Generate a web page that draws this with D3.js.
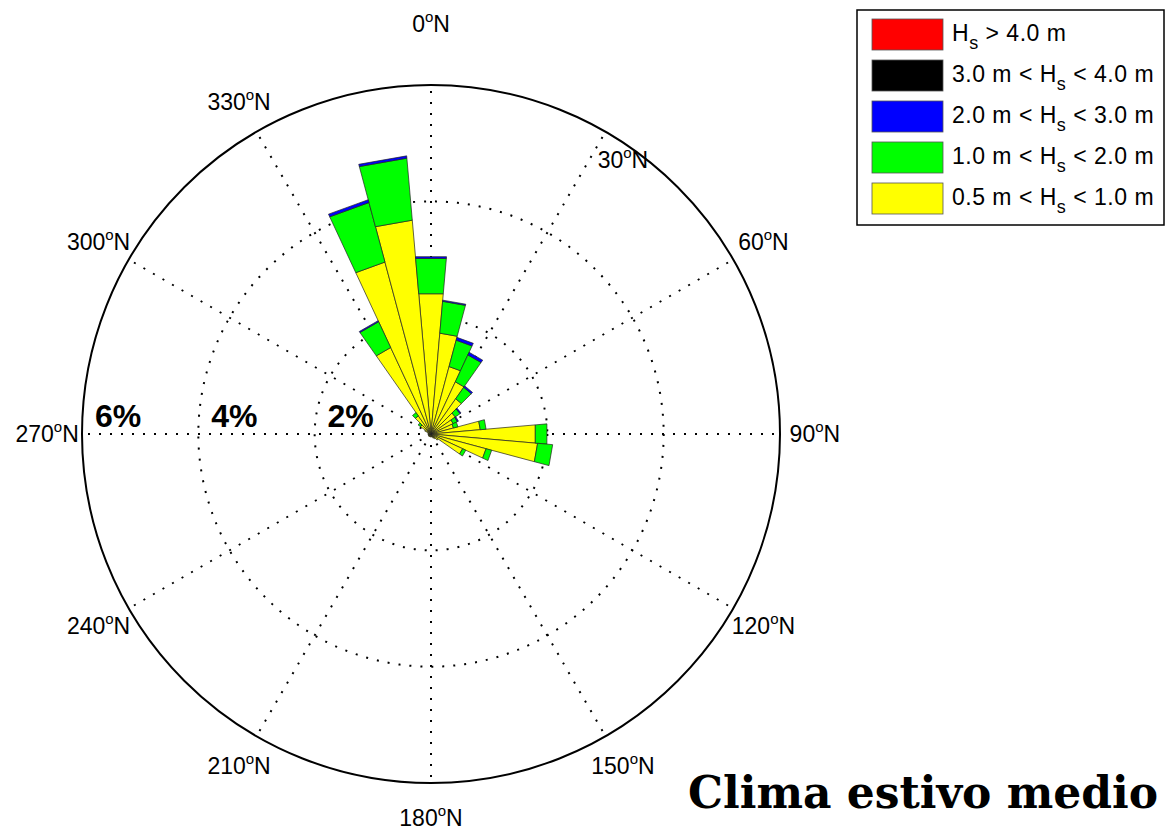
<!DOCTYPE html>
<html>
<head>
<meta charset="utf-8">
<script src="https://cdn.jsdelivr.net/npm/d3@7"></script>
<style>
  body { margin: 0; background: #fff; }
  svg { display: block; }
</style>
</head>
<body>
<div id="app"></div>
<script>
// direction of each sector, degrees from north (10 deg bins)
const directions = [0, 10, 20, 30, 40, 50, 60, 70, 80, 90, 100, 110, 120, 130, 140, 150, 160, 170,
    180, 190, 200, 210, 220, 230, 240, 250, 260, 270, 280, 290, 300, 310, 320, 330, 340, 350];

// frequency (%) for each Hs class, per direction
const hs05to1 = [2.42, 1.74, 1.20, 0.99, 0.74, 0.51, 0.42, 0.40, 0.85, 1.80, 1.84, 0.98, 0.60, 0.15, 0.10, 0.08, 0.05, 0.05,
    0.05, 0.05, 0.05, 0.05, 0.05, 0.05, 0.05, 0.05, 0.05, 0.05, 0.05, 0.06, 0.12, 0.22, 0.38, 1.64, 3.06, 3.69];
const hs1to2 = [0.61, 0.55, 0.47, 0.51, 0.24, 0.10, 0.08, 0.08, 0.10, 0.20, 0.26, 0.10, 0.06, 0, 0, 0, 0, 0,
    0, 0, 0, 0, 0, 0, 0, 0, 0, 0, 0, 0, 0, 0.05, 0.07, 0.49, 1.06, 1.07];
const hs2to3 = [0.03, 0.02, 0.05, 0.05, 0.03, 0.02, 0.02, 0, 0, 0, 0, 0, 0, 0, 0, 0, 0, 0,
    0, 0, 0, 0, 0, 0, 0, 0, 0, 0, 0, 0, 0, 0, 0, 0.02, 0.05, 0.04];
const hs3to4 = directions.map(() => 0);
const hsOver4 = directions.map(() => 0);

const ringValues = [2, 4, 6];
const spokeAngles = [0, 30, 60, 90, 120, 150, 180, 210, 240, 270, 300, 330];

const classes = [
    { key: 'over4', label: ['H', 's', ' > 4.0 m'], color: '#ff0000', values: hsOver4 },
    { key: 'h3to4', label: ['3.0 m < H', 's', ' < 4.0 m'], color: '#000000', values: hs3to4 },
    { key: 'h2to3', label: ['2.0 m < H', 's', ' < 3.0 m'], color: '#0000ff', values: hs2to3 },
    { key: 'h1to2', label: ['1.0 m < H', 's', ' < 2.0 m'], color: '#00ff00', values: hs1to2 },
    { key: 'h05to1', label: ['0.5 m < H', 's', ' < 1.0 m'], color: '#ffff00', values: hs05to1 },
];

const width = 1174;
const height = 834;
const cx = 431;
const cy = 434;
const R = 349;

// a couple of angle labels were nudged by hand in the original figure
const labelNudge = { 0: [0, -26], 30: [0, 58] };

const svg = d3.select('#app').append('svg')
    .attr('width', width)
    .attr('height', height)
    .style('font-family', '"Liberation Sans", Arial, Helvetica, sans-serif');

const r = d3.scaleLinear().domain([0, 6]).range([0, R]);
const toRad = d3.scaleLinear().domain([0, 360]).range([0, 2 * Math.PI]);
const pt = (deg, rad) => [Math.sin(toRad(deg)) * rad, -Math.cos(toRad(deg)) * rad];

const g = svg.append('g').attr('transform', `translate(${cx},${cy})`);

// stacked data: bottom class first
const rows = directions.map((d, i) => {
    const row = { dir: d };
    classes.forEach(c => { row[c.key] = c.values[i]; });
    return row;
});
const stackKeys = classes.map(c => c.key).reverse();
const series = d3.stack().keys(stackKeys)(rows);
const colorOf = {};
classes.forEach(c => { colorOf[c.key] = c.color; });

const halfBin = 5;
const sectorPath = (dir, v0, v1) => {
    const pts = v0 > 0
        ? [pt(dir - halfBin, r(v0)), pt(dir - halfBin, r(v1)), pt(dir + halfBin, r(v1)), pt(dir + halfBin, r(v0))]
        : [[0, 0], pt(dir - halfBin, r(v1)), pt(dir + halfBin, r(v1))];
    return d3.line()(pts) + 'Z';
};

// white face, then grid
g.append('circle').attr('r', R).attr('fill', '#fff');

const grid = g.append('g')
    .attr('stroke', '#000')
    .attr('stroke-width', 2)
    .attr('stroke-dasharray', '2 9')
    .attr('fill', 'none');

grid.selectAll('line')
    .data(spokeAngles)
    .enter().append('line')
    .attr('x1', 0).attr('y1', 0)
    .attr('x2', d => pt(d, r(6) - 6)[0])
    .attr('y2', d => pt(d, r(6) - 6)[1]);

grid.selectAll('circle')
    .data(ringValues.slice(0, -1))
    .enter().append('circle')
    .attr('r', d => r(d));

// bars
series.forEach(s => {
    g.append('g')
        .attr('fill', colorOf[s.key])
        .attr('stroke', '#222')
        .attr('stroke-width', 0.7)
        .attr('stroke-linejoin', 'miter')
      .selectAll('path')
      .data(s.filter(d => d[1] - d[0] > 0))
      .enter().append('path')
        .attr('d', d => sectorPath(d.data.dir, d[0], d[1]));
});

// outer circle
g.append('circle')
    .attr('r', r(6))
    .attr('fill', 'none')
    .attr('stroke', '#000')
    .attr('stroke-width', 2);

// ring labels along 270
g.selectAll('text.ring')
    .data(ringValues)
    .enter().append('text')
    .attr('class', 'ring')
    .attr('x', d => -r(d) + 36)
    .attr('y', -7)
    .attr('text-anchor', 'middle')
    .attr('font-size', 32)
    .attr('font-weight', 'bold')
    .text(d => `${d}%`);

// direction labels
const nudge = d => labelNudge[d] || [0, 0];
const dirLabel = g.selectAll('text.dir')
    .data(spokeAngles)
    .enter().append('text')
    .attr('class', 'dir')
    .attr('x', d => pt(d, R * 1.1)[0] + nudge(d)[0])
    .attr('y', d => pt(d, R * 1.1)[1] + 8 + nudge(d)[1])
    .attr('text-anchor', 'middle')
    .attr('font-size', 23);

dirLabel.append('tspan').text(d => d);
dirLabel.append('tspan').attr('font-size', 15).attr('dy', -10).text('o');
dirLabel.append('tspan').attr('dy', 10).text('N');

// legend
const legend = svg.append('g').attr('transform', 'translate(857,10)');
legend.append('rect')
    .attr('width', 307)
    .attr('height', 215)
    .attr('fill', '#fff')
    .attr('stroke', '#000')
    .attr('stroke-width', 1.5);

const item = legend.selectAll('g.item')
    .data(classes)
    .enter().append('g')
    .attr('class', 'item')
    .attr('transform', (d, i) => `translate(15,${9 + i * 41})`);

item.append('rect')
    .attr('width', 71)
    .attr('height', 31)
    .attr('fill', d => d.color)
    .attr('stroke', '#555')
    .attr('stroke-width', 0.8);

const itemText = item.append('text')
    .attr('x', 80)
    .attr('y', 22)
    .attr('font-size', 23)
    .attr('letter-spacing', 0.5);

itemText.append('tspan').text(d => d.label[0]);
itemText.append('tspan').attr('dy', 8).attr('font-size', 18).text(d => d.label[1]);
itemText.append('tspan').attr('dy', -8).text(d => d.label[2]);

// title
svg.append('text')
    .attr('x', 688)
    .attr('y', 808)
    .attr('font-family', '"DejaVu Serif", "Liberation Serif", serif')
    .attr('font-weight', 'bold')
    .attr('font-size', 45)
    .attr('textLength', 470)
    .attr('lengthAdjust', 'spacingAndGlyphs')
    .text('Clima estivo medio');
</script>
</body>
</html>
